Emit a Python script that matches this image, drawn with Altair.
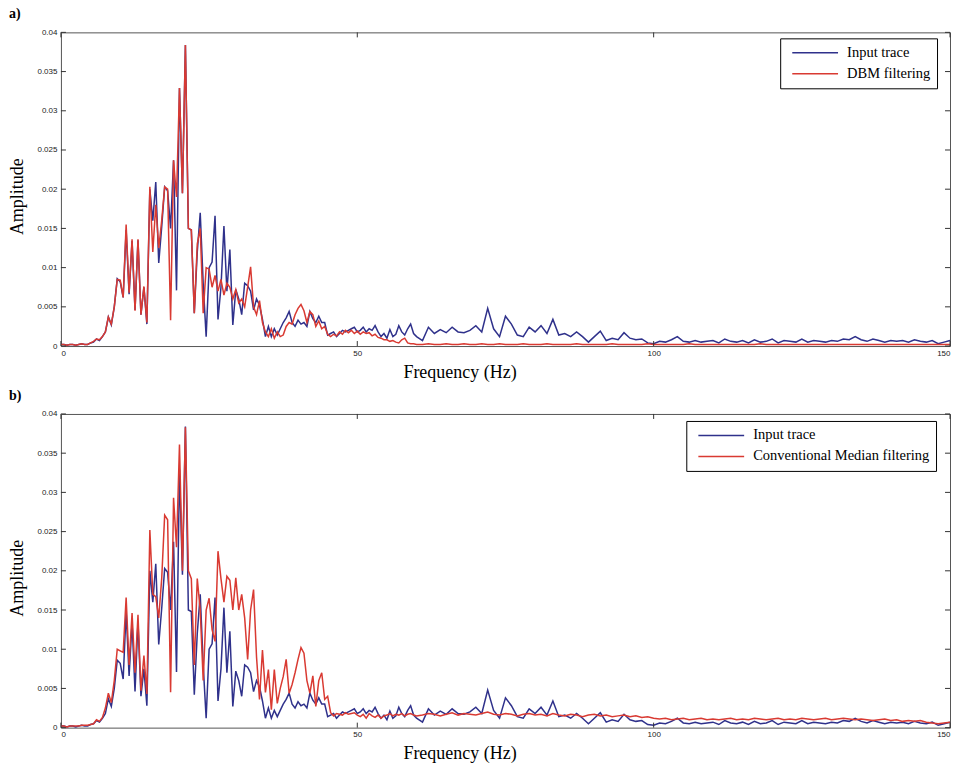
import altair as alt
import pandas as pd

# ---------------- data ----------------
# frequency grid: 0..60 Hz every 0.5 Hz, then 61..150 Hz every 1 Hz
FREQ_LOW = [i * 0.5 for i in range(121)]
FREQ_HIGH = list(range(61, 151))
FREQ = FREQ_LOW + FREQ_HIGH

INPUT_LOW = [
    0.0002, 0.0002, 0.0001, 0.0002, 0.0002, 0.0001, 0.0002, 0.0003, 0.0002, 0.0002,
    0.0004, 0.0005, 0.0009, 0.0007, 0.0012, 0.0018, 0.0037, 0.0027, 0.0050, 0.0086,
    0.0082, 0.0062, 0.0148, 0.0066, 0.0134, 0.0046, 0.0135, 0.0040, 0.0075, 0.0028,
    0.0200, 0.0160, 0.0209, 0.0106, 0.0152, 0.0203, 0.0198, 0.0150, 0.0237, 0.0071,
    0.0329, 0.0195, 0.0384, 0.0150, 0.0148, 0.0042, 0.0120, 0.0170, 0.0080, 0.0012,
    0.0100, 0.0107, 0.0166, 0.0034, 0.0075, 0.0153, 0.0070, 0.0123, 0.0027, 0.0072,
    0.0060, 0.0040, 0.0080, 0.0077, 0.0070, 0.0046, 0.0060, 0.0052, 0.0034, 0.0012,
    0.0025, 0.0012, 0.0022, 0.0014, 0.0022, 0.0030, 0.0036, 0.0044, 0.0030, 0.0025,
    0.0033, 0.0028, 0.0030, 0.0025, 0.0044, 0.0035, 0.0030, 0.0038, 0.0030, 0.0030,
    0.0014, 0.0016, 0.0018, 0.0012, 0.0016, 0.0020, 0.0018, 0.0020, 0.0022, 0.0024,
    0.0018, 0.0020, 0.0024, 0.0018, 0.0022, 0.0020, 0.0026, 0.0018, 0.0012, 0.0016,
    0.0010, 0.0021, 0.0012, 0.0015, 0.0026, 0.0018, 0.0014, 0.0022, 0.0028, 0.0016,
    0.0012,
]
INPUT_HIGH = [
    0.0007, 0.0024, 0.0016, 0.0021, 0.0017, 0.0024, 0.0018, 0.0017, 0.0020, 0.0026,
    0.0018, 0.0048, 0.0022, 0.0012, 0.0038, 0.0028, 0.0014, 0.0012, 0.0024, 0.0018,
    0.0026, 0.0016, 0.0034, 0.0014, 0.0016, 0.0012, 0.0018, 0.0012, 0.0005, 0.0012,
    0.0019, 0.0007, 0.0010, 0.0008, 0.0017, 0.0010, 0.0008, 0.0009, 0.0004, 0.0003,
    0.0006, 0.0005, 0.0008, 0.0012, 0.0006, 0.0005, 0.0007, 0.0005, 0.0006, 0.0007,
    0.0004, 0.0009, 0.0006, 0.0005, 0.0007, 0.0004, 0.0008, 0.0005, 0.0006, 0.0009,
    0.0004, 0.0007, 0.0006, 0.0005, 0.0009, 0.0005, 0.0007, 0.0006, 0.0005, 0.0007,
    0.0006, 0.0009, 0.0008, 0.0012, 0.0008, 0.0006, 0.0009, 0.0007, 0.0005, 0.0007,
    0.0006, 0.0007, 0.0005, 0.0008, 0.0006, 0.0005, 0.0007, 0.0003, 0.0005, 0.0007,
]

DBM_LOW = [
    0.0002, 0.0002, 0.0001, 0.0002, 0.0002, 0.0001, 0.0002, 0.0003, 0.0002, 0.0002,
    0.0004, 0.0006, 0.0009, 0.0008, 0.0012, 0.0018, 0.0037, 0.0028, 0.0050, 0.0085,
    0.0084, 0.0062, 0.0155, 0.0068, 0.0136, 0.0045, 0.0136, 0.0040, 0.0076, 0.0030,
    0.0203, 0.0120, 0.0180, 0.0125, 0.0160, 0.0203, 0.0200, 0.0033, 0.0237, 0.0190,
    0.0329, 0.0195, 0.0384, 0.0150, 0.0148, 0.0042, 0.0130, 0.0150, 0.0042, 0.0100,
    0.0098, 0.0075, 0.0090, 0.0070, 0.0085, 0.0065, 0.0080, 0.0075, 0.0060, 0.0072,
    0.0055, 0.0060, 0.0050, 0.0075, 0.0101, 0.0050, 0.0040, 0.0058, 0.0030, 0.0018,
    0.0012, 0.0022, 0.0010, 0.0018, 0.0012, 0.0014, 0.0025, 0.0030, 0.0028, 0.0040,
    0.0048, 0.0053, 0.0045, 0.0030, 0.0044, 0.0040, 0.0025, 0.0032, 0.0022, 0.0025,
    0.0015, 0.0012, 0.0015, 0.0013, 0.0018, 0.0015, 0.0020, 0.0017, 0.0020, 0.0016,
    0.0019, 0.0015, 0.0018, 0.0016, 0.0017, 0.0013, 0.0015, 0.0011, 0.0010, 0.0008,
    0.0008, 0.0006, 0.0007, 0.0005, 0.0004, 0.0008, 0.0010, 0.0004, 0.0003, 0.0003,
    0.0002,
]
DBM_HIGH = [
    0.0002, 0.0003, 0.0002, 0.0002, 0.0003, 0.0002, 0.0002, 0.0003, 0.0002, 0.0002,
    0.0003, 0.0002, 0.0002, 0.0003, 0.0002, 0.0002, 0.0002, 0.0003, 0.0002, 0.0002,
    0.0002, 0.0003, 0.0002, 0.0002, 0.0002, 0.0002, 0.0003, 0.0002, 0.0002, 0.0002,
    0.0002, 0.0002, 0.0003, 0.0002, 0.0002, 0.0002, 0.0002, 0.0002, 0.0003, 0.0002,
    0.0002, 0.0002, 0.0002, 0.0002, 0.0002, 0.0003, 0.0002, 0.0002, 0.0002, 0.0002,
    0.0002, 0.0002, 0.0002, 0.0002, 0.0002, 0.0002, 0.0002, 0.0003, 0.0002, 0.0002,
    0.0002, 0.0002, 0.0002, 0.0002, 0.0002, 0.0002, 0.0002, 0.0002, 0.0002, 0.0002,
    0.0002, 0.0002, 0.0002, 0.0002, 0.0002, 0.0002, 0.0002, 0.0002, 0.0002, 0.0002,
    0.0002, 0.0002, 0.0002, 0.0002, 0.0002, 0.0002, 0.0002, 0.0002, 0.0002, 0.0002,
]

MEDIAN_LOW = [
    0.0002, 0.0002, 0.0001, 0.0002, 0.0002, 0.0002, 0.0002, 0.0003, 0.0003, 0.0003,
    0.0004, 0.0005, 0.0010, 0.0008, 0.0013, 0.0025, 0.0044, 0.0032, 0.0060, 0.0100,
    0.0098, 0.0096, 0.0166, 0.0080, 0.0146, 0.0070, 0.0144, 0.0047, 0.0092, 0.0043,
    0.0252, 0.0170, 0.0167, 0.0140, 0.0190, 0.0271, 0.0265, 0.0045, 0.0293, 0.0230,
    0.0361, 0.0200, 0.0383, 0.0200, 0.0190, 0.0080, 0.0190, 0.0150, 0.0060, 0.0150,
    0.0165, 0.0125, 0.0110, 0.0225, 0.0190, 0.0160, 0.0193, 0.0188, 0.0150, 0.0191,
    0.0150, 0.0170, 0.0140, 0.0087, 0.0150, 0.0176, 0.0090, 0.0036, 0.0099, 0.0045,
    0.0074, 0.0023, 0.0074, 0.0031, 0.0050, 0.0065, 0.0087, 0.0044, 0.0055, 0.0070,
    0.0087, 0.0102, 0.0095, 0.0060, 0.0044, 0.0066, 0.0027, 0.0060, 0.0070, 0.0036,
    0.0040, 0.0019, 0.0015, 0.0018, 0.0017, 0.0016, 0.0019, 0.0017, 0.0018, 0.0019,
    0.0016, 0.0014, 0.0017, 0.0012, 0.0018, 0.0015, 0.0013, 0.0016, 0.0012, 0.0015,
    0.0016, 0.0018, 0.0015, 0.0017, 0.0016, 0.0018, 0.0015, 0.0017, 0.0018, 0.0016,
    0.0015,
]
MEDIAN_HIGH = [
    0.0016, 0.0018, 0.0017, 0.0015, 0.0017, 0.0019, 0.0016, 0.0018, 0.0017, 0.0016,
    0.0018, 0.0020, 0.0017, 0.0016, 0.0018, 0.0017, 0.0015, 0.0017, 0.0018, 0.0016,
    0.0017, 0.0015, 0.0018, 0.0016, 0.0015, 0.0017, 0.0016, 0.0014, 0.0016, 0.0017,
    0.0015, 0.0016, 0.0014, 0.0015, 0.0016, 0.0014, 0.0015, 0.0013, 0.0014, 0.0012,
    0.0011, 0.0012, 0.0010, 0.0011, 0.0012, 0.0010, 0.0011, 0.0012, 0.0010, 0.0011,
    0.0010, 0.0011, 0.0012, 0.0010, 0.0011, 0.0010, 0.0012, 0.0011, 0.0010, 0.0011,
    0.0012, 0.0010, 0.0011, 0.0010, 0.0012, 0.0011, 0.0010, 0.0011, 0.0012, 0.0010,
    0.0011, 0.0012, 0.0011, 0.0010, 0.0011, 0.0010, 0.0009, 0.0010, 0.0011, 0.0009,
    0.0010, 0.0008, 0.0009, 0.0008, 0.0009, 0.0007, 0.0006, 0.0005, 0.0006, 0.0007,
]

INPUT = INPUT_LOW + INPUT_HIGH
DBM = DBM_LOW + DBM_HIGH
MEDIAN = MEDIAN_LOW + MEDIAN_HIGH

X_TICKS = [0, 50, 100, 150]
Y_TICKS = [0, 0.005, 0.01, 0.015, 0.02, 0.025, 0.03, 0.035, 0.04]

BLUE = "#2F318B"
RED = "#D93A32"
W, H = 890, 314
TICK = 5


def panel(filt_vals, filt_name, label, legend_x, legend_y):
    xscale = alt.Scale(domain=[0, 150], nice=False, zero=False)
    yscale = alt.Scale(domain=[0, 0.04], nice=False)
    xaxis = alt.Axis(values=X_TICKS, title="Frequency (Hz)", format="d",
                     labelPadding=3, titlePadding=6, titleX=399, titleAlign="center")
    yaxis = alt.Axis(values=Y_TICKS, title="Amplitude", format="~g",
                     labelPadding=4, titlePadding=10, titleY=164, titleAlign="center")
    X = alt.X("f:Q", scale=xscale, axis=xaxis)
    Y = alt.Y("amp:Q", scale=yscale, axis=yaxis)
    color = alt.Color(
        "series:N",
        scale=alt.Scale(domain=["Input trace", filt_name], range=[BLUE, RED]),
        legend=alt.Legend(
            title=None, orient="none", legendX=legend_x, legendY=legend_y,
            strokeColor="black", fillColor="white", padding=6,
            symbolType="stroke", symbolSize=2100, symbolStrokeWidth=1.5,
            symbolOffset=5,
            labelFont="Liberation Serif", labelFontSize=14.5, labelColor="black",
            labelOffset=8, clipHeight=17, rowPadding=4, labelLimit=400,
        ),
    )

    df_in = pd.DataFrame({"f": FREQ, "amp": INPUT, "series": "Input trace"})
    df_f = pd.DataFrame({"f": FREQ, "amp": filt_vals, "series": filt_name})
    line_in = alt.Chart(df_in).mark_line(strokeWidth=1.5).encode(x=X, y=Y, color=color)
    line_f = alt.Chart(df_f).mark_line(strokeWidth=1.5).encode(x=X, y=Y, color=color)

    yt = pd.DataFrame({"amp": Y_TICKS})
    xt = pd.DataFrame({"f": X_TICKS})
    tick_style = dict(color="#333", strokeWidth=1)
    left = alt.Chart(yt).mark_rule(**tick_style).encode(
        y=Y, x=alt.value(0), x2=alt.value(TICK))
    right = alt.Chart(yt).mark_rule(**tick_style).encode(
        y=Y, x=alt.value(W - TICK), x2=alt.value(W))
    bottom = alt.Chart(xt).mark_rule(**tick_style).encode(
        x=X, y=alt.value(H - TICK), y2=alt.value(H))
    top = alt.Chart(xt).mark_rule(**tick_style).encode(
        x=X, y=alt.value(0), y2=alt.value(TICK))

    return alt.layer(line_in, line_f, left, right, bottom, top).properties(
        width=W, height=H,
        title=alt.TitleParams(label, anchor="start", frame="bounds",
                              font="Liberation Serif", fontSize=14,
                              fontWeight="bold", offset=7, color="black"),
    )


pa = panel(DBM, "DBM filtering", "a)", 720, 6)
pb = panel(MEDIAN, "Conventional Median filtering", "b)", 626, 7)

chart = alt.vconcat(pa, pb, spacing=6).resolve_scale(
    color="independent"
).resolve_legend(
    color="independent"
).properties(
    padding={"left": 8, "top": 6, "right": 6, "bottom": 2},
    background="white",
).configure_view(
    stroke="#555", strokeWidth=1
).configure_axis(
    grid=False, domain=False, ticks=False,
    labelFont="Liberation Sans", labelFontSize=8, labelColor="#222",
    titleFont="Liberation Serif", titleFontSize=18, titleFontWeight="normal",
    titleColor="black",
)

chart.save("out.html", embed_options={"renderer": "svg", "actions": False})
